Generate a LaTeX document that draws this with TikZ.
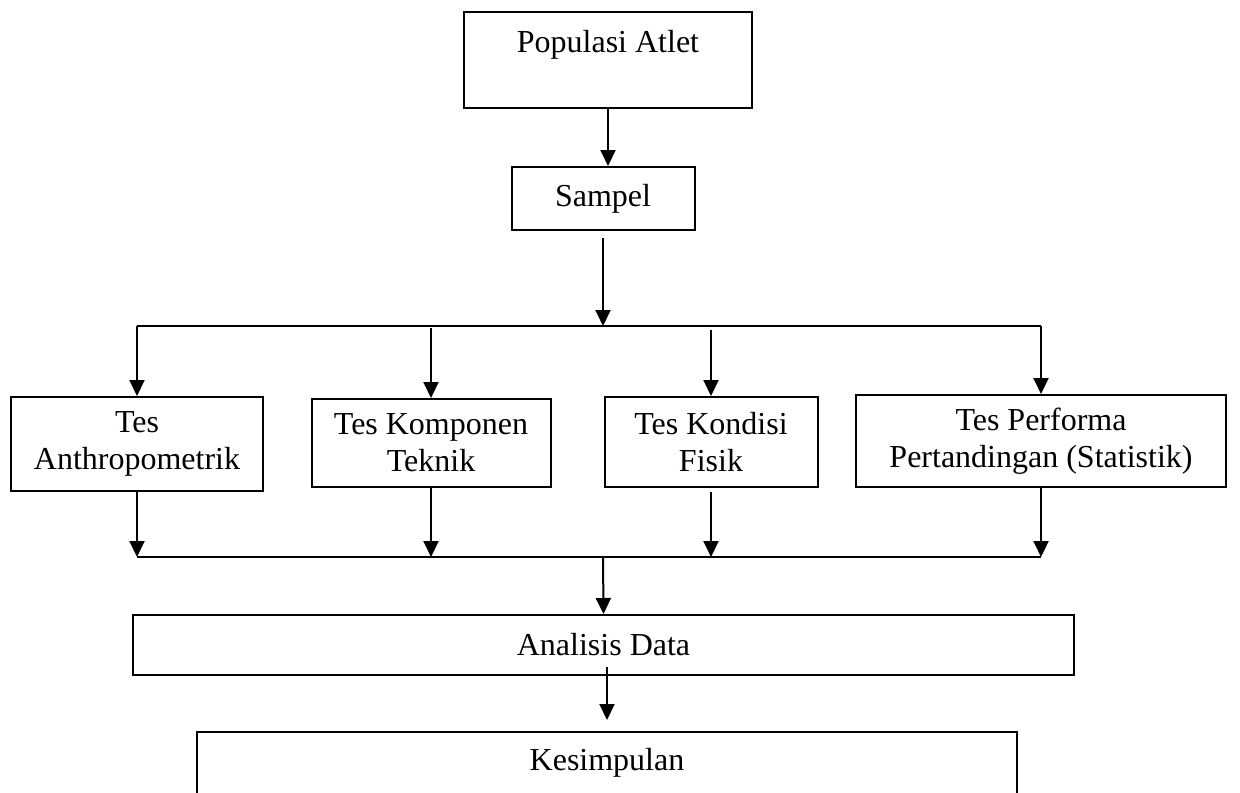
\documentclass[tikz,border=0pt]{standalone}
\usepackage{fontspec}
\setmainfont{Liberation Serif}
\usepackage{tikz}
\usetikzlibrary{arrows.meta,positioning,calc}

\begin{document}
\begin{tikzpicture}[
    x=0.5pt, y=-0.5pt,
    box/.style={draw, line width=1pt, align=center, inner sep=2pt,
                font=\fontsize{16}{18.5}\selectfont},
    arr/.style={-{Triangle[length=8pt,width=7.5pt]}, line width=1pt}
  ]
    \useasboundingbox (0,0) rectangle (1240,792);

    \node[box, minimum width=144pt, minimum height=48pt]   (pop)      at (608,60)    {Populasi Atlet\\~};
    \node[box, minimum width=91.5pt, minimum height=31.5pt] (sampel)  at (603,198.5) {Sampel};
    \node[box, minimum width=126pt, minimum height=47pt]   (anthro)   at (137,444)   {Tes\\Anthropometrik};
    \node[box, minimum width=119.5pt, minimum height=44pt] (komponen) at (431,443)   {Tes Komponen\\Teknik};
    \node[box, minimum width=106.5pt, minimum height=45pt] (kondisi)  at (711,442)   {Tes Kondisi\\Fisik};
    \node[box, minimum width=185pt, minimum height=46pt]   (performa) at (1041,441)  {Tes Performa\\Pertandingan (Statistik)};
    \node[box, minimum width=470.5pt, minimum height=30pt] (analisis) at (603.5,645) {Analisis Data};
    \node[box, draw=none, minimum width=409pt, minimum height=30pt] (kesimpulan) at (607,763) {Kesimpulan};
    \draw[line width=1pt] (kesimpulan.south west) -- (kesimpulan.north west)
        -- (kesimpulan.north east) -- (kesimpulan.south east);

    \coordinate (split) at (603,326);
    \coordinate (join)  at (603,557);

    \draw[arr] (pop.south) -- (pop.south |- sampel.north);
    \draw[arr] ($(sampel.south)+(0,7)$) -- (split);
    \draw[line width=1pt] (anthro.north |- split) -- (performa.north |- split);
    \draw[arr] (anthro.north |- split) -- (anthro.north);
    \draw[arr] ($(komponen.north |- split)+(0,2)$) -- (komponen.north);
    \draw[arr] ($(kondisi.north |- split)+(0,4)$) -- (kondisi.north);
    \draw[arr] (performa.north |- split) -- (performa.north);

    \draw[arr] (anthro.south) -- (anthro.south |- join);
    \draw[arr] (komponen.south) -- (komponen.south |- join);
    \draw[arr] ($(kondisi.south)+(0,4)$) -- (kondisi.south |- join);
    \draw[arr] (performa.south) -- (performa.south |- join);
    \draw[line width=1pt] (anthro.south |- join) -- (performa.south |- join);
    \draw[arr] (join) -- (analisis.north);
    \draw[arr] ($(analisis.south -| kesimpulan.north)+(0,-9)$) -- ($(kesimpulan.north)+(0,-12)$);
  \end{tikzpicture}
\end{document}
